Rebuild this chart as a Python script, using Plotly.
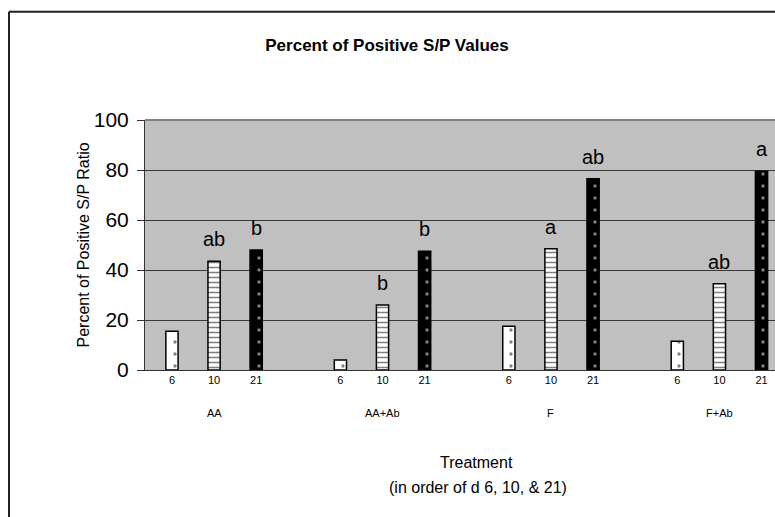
import plotly.graph_objects as go

groups = ["AA", "AA+Ab", "F", "F+Ab"]
days = ["6", "10", "21"]
d6_values = [15.5, 4, 17.5, 11.5]
d10_values = [43.5, 26, 48.5, 34.5]
d21_values = [48, 47.5, 76.5, 79.5]
d10_letters = ["ab", "b", "a", "ab"]
d21_letters = ["b", "b", "ab", "a"]

series = [d6_values, d10_values, d21_values]
letters = [None, d10_letters, d21_letters]

FONT = "Liberation Sans, Arial, sans-serif"
SLOTS_PER_GROUP = 4  # three days + one empty gap slot

W, H = 775, 517
PL, PT, PB = 145, 120, 370.5  # plot area in page pixels
PW = W - PL
PH = PB - PT


def px(xp):
    return (xp - PL) / PW


def py(yp):
    return (PB - yp) / PH


patterns = [
    dict(shape=".", fgcolor="black", bgcolor="white", size=12, solidity=0.06),
    dict(shape="-", fgcolor="black", bgcolor="white", size=5, solidity=0.3),
    dict(shape=".", fgcolor="white", bgcolor="black", size=12, solidity=0.06),
]

fig = go.Figure()
annotations = []
tickvals, ticktext = [], []
for di, (day, vals) in enumerate(zip(days, series)):
    xs = [gi * SLOTS_PER_GROUP + di for gi in range(len(groups))]
    tickvals += xs
    ticktext += [day] * len(xs)
    fig.add_trace(go.Bar(
        x=xs, y=vals, width=0.29, name="d " + day,
        marker=dict(color="white" if di < 2 else "black",
                    pattern=patterns[di],
                    line=dict(color="black", width=1.5)),
        showlegend=False,
    ))
    if letters[di]:
        for x, v, t in zip(xs, vals, letters[di]):
            annotations.append(dict(x=x, y=v, xref="x", yref="y", text=t,
                                    showarrow=False, yanchor="bottom", yshift=9,
                                    font=dict(size=20, color="black", family=FONT)))

for gi, g in enumerate(groups):
    annotations.append(dict(x=gi * SLOTS_PER_GROUP + 1, y=py(414), xref="x", yref="paper",
                            text=g, showarrow=False, yanchor="middle",
                            font=dict(size=11, color="black", family=FONT)))

# axis titles
annotations.append(dict(x=px(72), y=0.5, xref="paper", yref="paper",
                        text="Percent of Positive S/P Ratio", textangle=-90,
                        showarrow=False, font=dict(size=16, color="black", family=FONT)))
annotations.append(dict(x=px(476), y=py(463), xref="paper", yref="paper",
                        text="Treatment", showarrow=False, yanchor="middle",
                        font=dict(size=16, color="black", family=FONT)))
annotations.append(dict(x=px(478), y=py(488), xref="paper", yref="paper",
                        text="(in order of d 6, 10, & 21)", showarrow=False, yanchor="middle",
                        font=dict(size=16, color="black", family=FONT)))

shapes = [
    # outer chart border (left and top edges visible)
    dict(type="line", xref="paper", yref="paper", x0=px(9), x1=px(9),
         y0=py(11.5), y1=py(540), line=dict(color="#222", width=2)),
    dict(type="line", xref="paper", yref="paper", x0=px(9), x1=px(800),
         y0=py(11.5), y1=py(11.5), line=dict(color="#222", width=2)),
    # top edge of plot area
    dict(type="line", xref="paper", yref="paper", x0=0, x1=1.1, y0=1, y1=1,
         line=dict(color="#808080", width=2)),
]

fig.update_layout(
    width=W, height=H,
    margin=dict(l=PL, r=0, t=PT, b=H - PB),
    paper_bgcolor="white", plot_bgcolor="#c0c0c0",
    barmode="overlay",
    title=dict(text="<b>Percent of Positive S/P Values</b>", x=387 / W, y=1 - 45 / H,
               xref="container", yref="container", xanchor="center", yanchor="middle",
               font=dict(size=17, color="black", family=FONT)),
    font=dict(family=FONT, color="black"),
    xaxis=dict(range=[-0.64, 14.32], tickvals=tickvals, ticktext=ticktext,
               showgrid=False, zeroline=False, showline=True, linecolor="#333", linewidth=1,
               ticks="", tickfont=dict(size=11, color="black")),
    yaxis=dict(range=[0, 100], tickvals=[0, 20, 40, 60, 80, 100],
               showgrid=True, gridcolor="#3a3a3a", gridwidth=1, zeroline=False,
               showline=True, linecolor="#333", linewidth=1,
               ticks="outside", ticklen=7, tickcolor="#333", ticklabelstandoff=4,
               tickfont=dict(size=21, color="black")),
    annotations=annotations, shapes=shapes,
)

fig.write_html(
    "out.html",
    config={"displayModeBar": False},
    post_script="document.body.style.margin='0';document.body.style.overflow='hidden';",
)
